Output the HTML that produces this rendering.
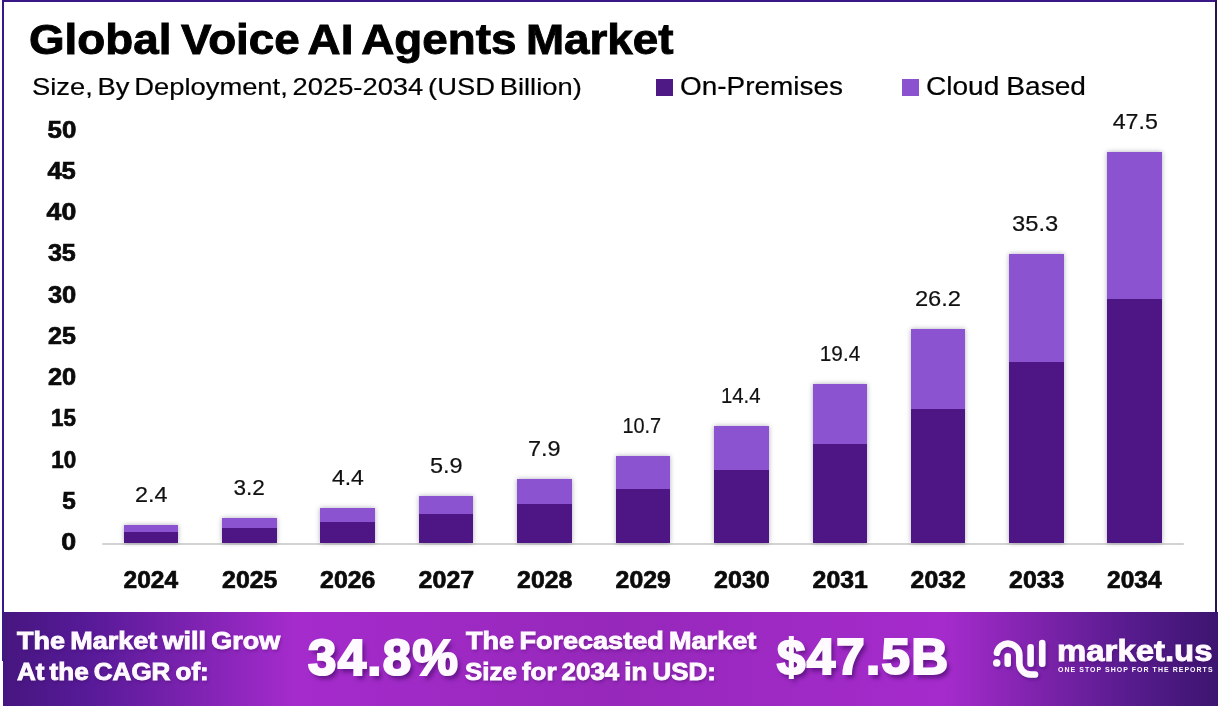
<!DOCTYPE html>
<html lang="en"><head><meta charset="utf-8"><title>Global Voice AI Agents Market</title>
<style>
html,body{margin:0;padding:0;background:#fff}
body{width:1220px;height:706px;position:relative;overflow:hidden;font-family:"Liberation Sans",Arial,sans-serif}
.frame{position:absolute;left:1.9px;top:-0.2px;width:1211.3px;height:658.8px;border:2px solid #3a1786;border-bottom:0;border-right:0;box-sizing:content-box}
.frame-r{position:absolute;left:1215.2px;top:0;width:1.9px;height:612px;background:#2a1055}
.t{position:absolute;white-space:nowrap;line-height:1;transform-origin:0 0;margin:0;color:#000}
.b{font-weight:700}
.sq{position:absolute;width:17px;height:17px;top:79px}
.banner{position:absolute;left:3.1px;top:611.7px;width:1214.7px;height:95px;background:linear-gradient(90deg,#46167f 0%,#571a98 7%,#7f23b2 16%,#a52bcc 24%,#9628ba 50%,#a52bcc 77.5%,#7a22a9 86%,#561b8d 93%,#3d1570 100%)}
.w{color:#fffaff}
.bn{text-shadow:1px 2px 3px rgba(60,10,90,.45)}
.big{text-shadow:3px 4px 4px rgba(60,8,95,.65)}
svg{position:absolute;left:0;top:0}
svg text{font-family:"Liberation Sans",Arial,sans-serif}
</style></head><body>
<div class="frame"></div><div class="frame-r"></div>
<h1 class="t b" style="left:29.46px;top:18.69px;font-size:41.72px;word-spacing:-2.92px;-webkit-text-stroke:0.90px currentColor;transform:scaleX(1.0977)">Global Voice AI Agents Market</h1>
<div class="t " style="left:32.46px;top:74.78px;font-size:24.71px;word-spacing:-2.47px;-webkit-text-stroke:0.20px currentColor;transform:scaleX(1.1060)">Size, By Deployment, 2025-2034 (USD Billion)</div>
<div class="sq" style="left:656px;background:#4e1984"></div>
<div class="t " style="left:680.30px;top:73.50px;font-size:25.87px;-webkit-text-stroke:0.20px currentColor;transform:scaleX(1.0796)">On-Premises</div>
<div class="sq" style="left:902px;background:#8b52cf"></div>
<div class="t " style="left:926.49px;top:73.50px;font-size:25.87px;word-spacing:-0.78px;-webkit-text-stroke:0.20px currentColor;transform:scaleX(1.0855)">Cloud Based</div>
<svg width="1220" height="706" viewBox="0 0 1220 706">
<defs><filter id="sh" x="-20%" y="-20%" width="140%" height="140%"><feDropShadow dx="0" dy="0" stdDeviation="2.4" flood-color="#1a0a2a" flood-opacity=".32"/></filter></defs>
<line x1="102.3" y1="544" x2="1183.8" y2="544" stroke="#d3d3d3" stroke-width="2"/>
<g filter="url(#sh)"><rect x="124" y="525" width="54" height="7" fill="#8b52cf"/><rect x="124" y="532" width="54" height="11" fill="#4e1984"/></g>
<g filter="url(#sh)"><rect x="222" y="518" width="55" height="10" fill="#8b52cf"/><rect x="222" y="528" width="55" height="15" fill="#4e1984"/></g>
<g filter="url(#sh)"><rect x="320" y="508" width="55" height="14" fill="#8b52cf"/><rect x="320" y="522" width="55" height="21" fill="#4e1984"/></g>
<g filter="url(#sh)"><rect x="419" y="496" width="54" height="18" fill="#8b52cf"/><rect x="419" y="514" width="54" height="29" fill="#4e1984"/></g>
<g filter="url(#sh)"><rect x="517" y="479" width="55" height="25" fill="#8b52cf"/><rect x="517" y="504" width="55" height="39" fill="#4e1984"/></g>
<g filter="url(#sh)"><rect x="616" y="456" width="54" height="33" fill="#8b52cf"/><rect x="616" y="489" width="54" height="54" fill="#4e1984"/></g>
<g filter="url(#sh)"><rect x="714" y="426" width="55" height="44" fill="#8b52cf"/><rect x="714" y="470" width="55" height="73" fill="#4e1984"/></g>
<g filter="url(#sh)"><rect x="813" y="384" width="54" height="60" fill="#8b52cf"/><rect x="813" y="444" width="54" height="99" fill="#4e1984"/></g>
<g filter="url(#sh)"><rect x="911" y="329" width="54" height="80" fill="#8b52cf"/><rect x="911" y="409" width="54" height="134" fill="#4e1984"/></g>
<g filter="url(#sh)"><rect x="1009" y="254" width="55" height="108" fill="#8b52cf"/><rect x="1009" y="362" width="55" height="181" fill="#4e1984"/></g>
<g filter="url(#sh)"><rect x="1107" y="152" width="55" height="147" fill="#8b52cf"/><rect x="1107" y="299" width="55" height="244" fill="#4e1984"/></g>
<text transform="translate(47.49 137.80) scale(1.1142 1)" font-size="23.22" font-weight="700" stroke="#0b0b0b" stroke-width="0.70" fill="#0b0b0b">50</text>
<text transform="translate(47.39 179.02) scale(1.1023 1)" font-size="23.22" font-weight="700" stroke="#0b0b0b" stroke-width="0.70" fill="#0b0b0b">45</text>
<text transform="translate(46.60 220.24) scale(1.1492 1)" font-size="23.22" font-weight="700" stroke="#0b0b0b" stroke-width="0.70" fill="#0b0b0b">40</text>
<text transform="translate(47.89 261.46) scale(1.0827 1)" font-size="23.22" font-weight="700" stroke="#0b0b0b" stroke-width="0.70" fill="#0b0b0b">35</text>
<text transform="translate(47.89 302.68) scale(1.0983 1)" font-size="23.22" font-weight="700" stroke="#0b0b0b" stroke-width="0.70" fill="#0b0b0b">30</text>
<text transform="translate(48.00 343.90) scale(1.0785 1)" font-size="23.22" font-weight="700" stroke="#0b0b0b" stroke-width="0.70" fill="#0b0b0b">25</text>
<text transform="translate(47.99 385.12) scale(1.0942 1)" font-size="23.22" font-weight="700" stroke="#0b0b0b" stroke-width="0.70" fill="#0b0b0b">20</text>
<text transform="translate(50.94 426.34) scale(0.9635 1)" font-size="23.22" font-weight="700" stroke="#0b0b0b" stroke-width="0.70" fill="#0b0b0b">15</text>
<text transform="translate(51.24 467.56) scale(0.9655 1)" font-size="23.22" font-weight="700" stroke="#0b0b0b" stroke-width="0.70" fill="#0b0b0b">10</text>
<text transform="translate(62.29 508.78) scale(1.0496 1)" font-size="23.22" font-weight="700" stroke="#0b0b0b" stroke-width="0.70" fill="#0b0b0b">5</text>
<text transform="translate(61.37 550.00) scale(1.1552 1)" font-size="23.22" font-weight="700" stroke="#0b0b0b" stroke-width="0.70" fill="#0b0b0b">0</text>
<text transform="translate(123.60 587.80) scale(1.0302 1)" font-size="23.78" font-weight="700" stroke="#0b0b0b" stroke-width="0.70" fill="#0b0b0b">2024</text>
<text transform="translate(134.91 501.80) scale(1.0175 1)" font-size="22.96" stroke="#111" stroke-width="0.20" fill="#111">2.4</text>
<text transform="translate(222.09 587.80) scale(1.0448 1)" font-size="23.78" font-weight="700" stroke="#0b0b0b" stroke-width="0.70" fill="#0b0b0b">2025</text>
<text transform="translate(233.49 494.80) scale(0.9847 1)" font-size="22.96" stroke="#111" stroke-width="0.20" fill="#111">3.2</text>
<text transform="translate(320.09 587.80) scale(1.0448 1)" font-size="23.78" font-weight="700" stroke="#0b0b0b" stroke-width="0.70" fill="#0b0b0b">2026</text>
<text transform="translate(331.94 484.80) scale(1.0005 1)" font-size="22.96" stroke="#111" stroke-width="0.20" fill="#111">4.4</text>
<text transform="translate(418.59 587.80) scale(1.0523 1)" font-size="23.78" font-weight="700" stroke="#0b0b0b" stroke-width="0.70" fill="#0b0b0b">2027</text>
<text transform="translate(429.97 472.80) scale(1.0241 1)" font-size="22.96" stroke="#111" stroke-width="0.20" fill="#111">5.9</text>
<text transform="translate(517.09 587.80) scale(1.0448 1)" font-size="23.78" font-weight="700" stroke="#0b0b0b" stroke-width="0.70" fill="#0b0b0b">2028</text>
<text transform="translate(527.90 455.80) scale(1.0230 1)" font-size="22.96" stroke="#111" stroke-width="0.20" fill="#111">7.9</text>
<text transform="translate(615.59 587.80) scale(1.0448 1)" font-size="23.78" font-weight="700" stroke="#0b0b0b" stroke-width="0.70" fill="#0b0b0b">2029</text>
<text transform="translate(622.44 432.80) scale(0.8679 1)" font-size="22.96" stroke="#111" stroke-width="0.20" fill="#111">10.7</text>
<text transform="translate(714.09 587.80) scale(1.0523 1)" font-size="23.78" font-weight="700" stroke="#0b0b0b" stroke-width="0.70" fill="#0b0b0b">2030</text>
<text transform="translate(720.91 402.80) scale(0.8886 1)" font-size="22.96" stroke="#111" stroke-width="0.20" fill="#111">14.4</text>
<text transform="translate(812.59 587.80) scale(1.0448 1)" font-size="23.78" font-weight="700" stroke="#0b0b0b" stroke-width="0.70" fill="#0b0b0b">2031</text>
<text transform="translate(819.79 360.80) scale(0.9049 1)" font-size="22.96" stroke="#111" stroke-width="0.20" fill="#111">19.4</text>
<text transform="translate(910.59 587.80) scale(1.0448 1)" font-size="23.78" font-weight="700" stroke="#0b0b0b" stroke-width="0.70" fill="#0b0b0b">2032</text>
<text transform="translate(914.89 305.80) scale(1.0332 1)" font-size="22.96" stroke="#111" stroke-width="0.20" fill="#111">26.2</text>
<text transform="translate(1009.09 587.80) scale(1.0448 1)" font-size="23.78" font-weight="700" stroke="#0b0b0b" stroke-width="0.70" fill="#0b0b0b">2033</text>
<text transform="translate(1012.06 230.80) scale(1.0339 1)" font-size="22.96" stroke="#111" stroke-width="0.20" fill="#111">35.3</text>
<text transform="translate(1107.10 587.80) scale(1.0302 1)" font-size="23.78" font-weight="700" stroke="#0b0b0b" stroke-width="0.70" fill="#0b0b0b">2034</text>
<text transform="translate(1112.64 128.80) scale(1.0116 1)" font-size="22.96" stroke="#111" stroke-width="0.20" fill="#111">47.5</text>
</svg>
<div class="banner"></div>
<div class="t b w bn" style="left:17.32px;top:630.37px;font-size:23.55px;word-spacing:-1.88px;-webkit-text-stroke:0.90px currentColor;transform:scaleX(1.1445)">The Market will Grow</div>
<div class="t b w bn" style="left:16.89px;top:660.57px;font-size:23.55px;word-spacing:-1.88px;-webkit-text-stroke:0.90px currentColor;transform:scaleX(1.1051)">At the CAGR of:</div>
<div class="t b w big" style="left:307.52px;top:632.92px;font-size:50.42px;letter-spacing:1.26px;-webkit-text-stroke:2.20px currentColor;transform:scaleX(1.0125)">34.8%</div>
<div class="t b w bn" style="left:465.82px;top:630.37px;font-size:23.55px;word-spacing:-1.88px;-webkit-text-stroke:0.90px currentColor;transform:scaleX(1.1483)">The Forecasted Market</div>
<div class="t b w bn" style="left:465.39px;top:660.57px;font-size:23.55px;word-spacing:-1.88px;-webkit-text-stroke:0.90px currentColor;transform:scaleX(1.0998)">Size for 2034 in USD:</div>
<div class="t b w big" style="left:776.71px;top:631.81px;font-size:50.43px;letter-spacing:1.26px;-webkit-text-stroke:2.20px currentColor;transform:scaleX(1.0125)">$47.5B</div>
<svg width="1220" height="706" viewBox="0 0 1220 706" style="pointer-events:none">
<defs><filter id="ls" x="-20%" y="-20%" width="150%" height="150%"><feDropShadow dx="1.5" dy="2" stdDeviation="1.5" flood-color="#4a0f78" flood-opacity=".6"/></filter></defs>
<g filter="url(#ls)" fill="none" stroke="#fffaff" stroke-width="6.5" stroke-linecap="round" stroke-linejoin="round">
<path d="M996.9 652.8 A11.3 11.3 0 0 1 1019.3 655 L1019.3 663 A11.6 11.6 0 0 0 1030.9 674.6 L1035 674.6"/>
<path d="M1007.7 656.2 V663.7"/>
<path d="M1030.6 647.3 V663.7"/>
<path d="M1042.2 643 V663.7"/>
<circle cx="996.7" cy="662.9" r="3.7" stroke="none" fill="#fffaff"/>
</g>
</svg>
<div class="t b w bn" style="left:1056.53px;top:636.24px;font-size:30.32px;-webkit-text-stroke:0.90px currentColor;transform:scaleX(1.0858)">market.us</div>
<div class="t b w" style="left:1057.78px;top:665.99px;font-size:6.98px;letter-spacing:1.05px;transform:scaleX(0.9980)">ONE STOP SHOP FOR THE REPORTS</div>
</body></html>
